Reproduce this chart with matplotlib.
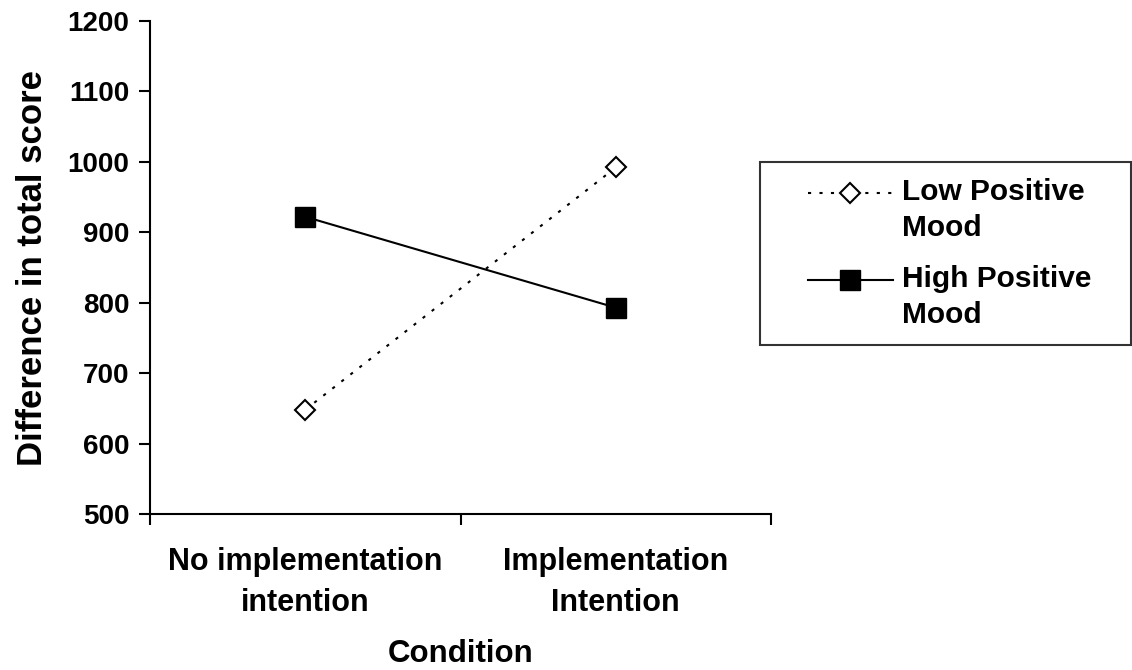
import matplotlib
matplotlib.use("Agg")
import matplotlib.pyplot as plt
from matplotlib.ticker import FixedLocator

categories = ["No implementation\nintention", "Implementation\nIntention"]
low_mood = [648, 992]
high_mood = [922, 793]
series_labels = ["Low Positive\nMood", "High Positive\nMood"]
y_ticks = [500, 600, 700, 800, 900, 1000, 1100, 1200]

plt.rcParams['font.family'] = ['Liberation Sans', 'DejaVu Sans']
plt.rcParams['font.weight'] = 'bold'

fig = plt.figure(figsize=(11.32, 6.70), dpi=100)
ax = fig.add_axes([150/1132, 1-514/670, (771-150)/1132, (514-21)/670])

xpos = [0.5, 1.5]
ax.plot(xpos, low_mood, linestyle=(0, (1.5, 4)), color='black', linewidth=1.5,
        marker='D', markersize=10.5, markerfacecolor='white', markeredgecolor='black',
        markeredgewidth=1.5, label=series_labels[0])
ax.plot(xpos, high_mood, linestyle='-', color='black', linewidth=1.5,
        marker='s', markersize=14, markerfacecolor='black', markeredgecolor='black',
        label=series_labels[1])

ax.set_xlim(0, 2)
ax.set_ylim(500, 1200)
ax.set_yticks(y_ticks)
ax.set_yticklabels([str(v) for v in y_ticks], fontsize=20, fontweight='bold')
ax.xaxis.set_major_locator(FixedLocator([0, 1, 2]))
ax.set_xticklabels([])
ax.xaxis.set_minor_locator(FixedLocator(xpos))
ax.set_xticklabels(categories, minor=True, fontsize=22, fontweight='bold')
plt.setp(ax.get_xminorticklabels(), linespacing=1.48)
ax.tick_params(axis='x', which='minor', length=0, pad=24)
ax.tick_params(axis='x', which='major', direction='out', length=8, width=1.5)
ax.tick_params(axis='y', direction='out', length=8, width=1.5, pad=7)

for s in ['top', 'right']:
    ax.spines[s].set_visible(False)
for s in ['left', 'bottom']:
    ax.spines[s].set_linewidth(1.5)

ax.set_ylabel("Difference in total score", fontsize=25, fontweight='bold', labelpad=13)
ax.set_xlabel("Condition", fontsize=22.5, fontweight='bold', labelpad=15)

fs = 21.5
leg = fig.legend(loc='upper left',
                 bbox_to_anchor=(760/1132, 0, (1131-760)/1132, 1-162/670),
                 bbox_transform=fig.transFigure, mode='expand',
                 frameon=True, fancybox=False,
                 prop={'size': fs, 'weight': 'bold'}, handlelength=3.9,
                 borderpad=0.55, labelspacing=0.76, handletextpad=0.3,
                 borderaxespad=0)
leg.get_frame().set_edgecolor('black')
leg.get_frame().set_linewidth(1.5)
for t in leg.get_texts():
    t.set_linespacing(1.35)

# place handle on the first text line and shorten it like the reference
for h in leg.legend_handles:
    xd = h.get_xdata()
    yd = h.get_ydata()
    x0, x1 = xd[0], xd[-1]
    h.set_xdata([x0 + 0.27*(x1-x0), x0 + 0.63*(x1-x0), x1])
    h.set_ydata([y + 0.585*fs for y in yd])

fig.savefig("out.png", dpi=100)
